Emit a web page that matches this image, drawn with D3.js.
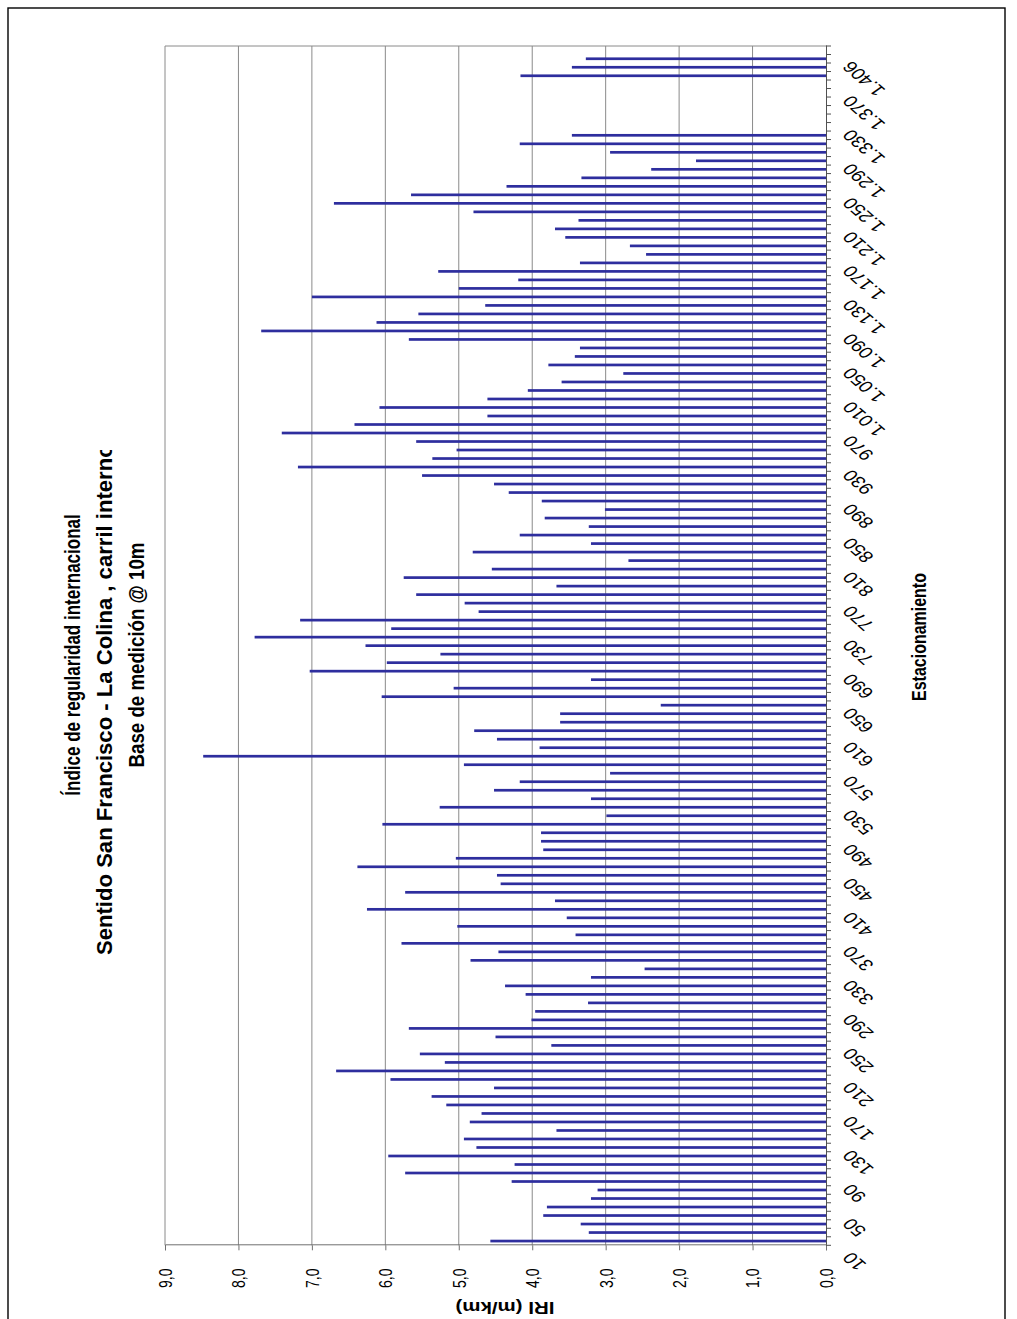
<!DOCTYPE html>
<html>
<head>
<meta charset="utf-8">
<script src="https://cdn.jsdelivr.net/npm/d3@7"></script>
<style>
  body { margin: 0; background: #fff; }
  svg { display: block; }
  text { font-family: "Liberation Sans", Arial, sans-serif; fill: #000; }
</style>
</head>
<body>
<script>
// Stations (m) along the lane, one IRI reading every 10 m
const stations = [
  10, 20, 30, 40, 50, 60, 70, 80, 90, 100,
  110, 120, 130, 140, 150, 160, 170, 180, 190, 200,
  210, 220, 230, 240, 250, 260, 270, 280, 290, 300,
  310, 320, 330, 340, 350, 360, 370, 380, 390, 400,
  410, 420, 430, 440, 450, 460, 470, 480, 490, 500,
  510, 520, 530, 540, 550, 560, 570, 580, 590, 600,
  610, 620, 630, 640, 650, 660, 670, 680, 690, 700,
  710, 720, 730, 740, 750, 760, 770, 780, 790, 800,
  810, 820, 830, 840, 850, 860, 870, 880, 890, 900,
  910, 920, 930, 940, 950, 960, 970, 980, 990, 1000,
  1010, 1020, 1030, 1040, 1050, 1060, 1070, 1080, 1090, 1100,
  1110, 1120, 1130, 1140, 1150, 1160, 1170, 1180, 1190, 1200,
  1210, 1220, 1230, 1240, 1250, 1260, 1270, 1280, 1290, 1300,
  1310, 1320, 1330, 1340, 1350, 1360, 1370, 1380, 1390, 1400,
  1406
];

// IRI (m/km) per station; null where no reading was taken
const iri = [
  4.57, 3.23, 3.34, 3.85, 3.80, 3.20, 3.11, 4.28, 5.73, 4.24,
  5.96, 4.76, 4.93, 3.67, 4.85, 4.69, 5.17, 5.37, 4.52, 5.93,
  6.67, 5.19, 5.53, 3.74, 4.50, 5.68, 4.01, 3.96, 3.24, 4.09,
  4.37, 3.20, 2.47, 4.84, 4.46, 5.78, 3.41, 5.02, 3.53, 6.25,
  3.69, 5.73, 4.43, 4.48, 6.38, 5.04, 3.85, 3.88, 3.88, 6.04,
  2.99, 5.26, 3.20, 4.52, 4.17, 2.94, 4.93, 8.48, 3.90, 4.48,
  4.79, 3.62, 3.62, 2.25, 6.05, 5.07, 3.20, 7.03, 5.98, 5.25,
  6.27, 7.78, 5.92, 7.16, 4.73, 4.92, 5.58, 3.67, 5.75, 4.55,
  2.69, 4.81, 3.20, 4.17, 3.23, 3.83, 3.01, 3.87, 4.32, 4.52,
  5.50, 7.19, 5.36, 5.03, 5.58, 7.41, 6.42, 4.61, 6.08, 4.61,
  4.06, 3.60, 2.76, 3.78, 3.42, 3.35, 5.68, 7.69, 6.12, 5.55,
  4.64, 7.00, 5.00, 4.19, 5.28, 3.35, 2.45, 2.67, 3.55, 3.69,
  3.37, 4.80, 6.70, 5.65, 4.35, 3.33, 2.38, 1.77, 2.94, 4.17,
  3.46, null, null, null, null, null, null, 4.16, 3.46, 3.27,
  null
];

const valueTicks = [0, 1, 2, 3, 4, 5, 6, 7, 8, 9];
const stationLabels = [10, 50, 90, 130, 170, 210, 250, 290, 330, 370, 410, 450, 490,
  530, 570, 610, 650, 690, 730, 770, 810, 850, 890, 930, 970, 1010, 1050, 1090,
  1130, 1170, 1210, 1250, 1290, 1330, 1370, 1406];

const titleLines = [
  "Índice de regularidad internacional",
  "Sentido San Francisco - La Colina , carril interno",
  "Base de medición @ 10m"
];
const xTitle = "Estacionamiento";
const yTitle = "IRI (m/km)";

// Spanish number formatting: comma decimals, dot thousands
const es = d3.formatLocale({ decimal: ",", thousands: ".", grouping: [3], currency: ["", " €"] });
const fmtVal = es.format(".1f");
const fmtSta = es.format(",d");

const W = 1017, H = 1319;
const svg = d3.select("body").append("svg").attr("width", W).attr("height", H);
svg.append("rect").attr("width", W).attr("height", H).attr("fill", "#fff");

// The chart is laid out landscape (1319 wide, 1017 tall) and turned a quarter turn
const g = svg.append("g").attr("transform", `translate(0,${H}) rotate(-90)`);
const K = 1.28; // glyphs are stretched across the long side of the sheet

// Outer frame
g.append("rect")
  .attr("x", -12).attr("y", 8).attr("width", 1323).attr("height", 997)
  .attr("fill", "none").attr("stroke", "#000").attr("stroke-width", 1.4);

const plot = { left: 73.7, right: 1273, top: 165, bottom: 826 };

const x = d3.scaleBand()
  .domain(stations)
  .range([plot.left, plot.right])
  .padding(0);

const y = d3.scaleLinear().domain([0, 9]).range([plot.bottom, plot.top]);

// Horizontal gridlines (one per unit)
g.append("g").selectAll("line")
  .data(valueTicks.filter(t => t > 0))
  .join("line")
  .attr("x1", plot.left).attr("x2", plot.right)
  .attr("y1", d => y(d)).attr("y2", d => y(d))
  .attr("stroke", "#8a8a8a").attr("stroke-width", 1);

// Right edge of the plot area
g.append("line")
  .attr("x1", plot.right).attr("x2", plot.right)
  .attr("y1", plot.top).attr("y2", plot.bottom)
  .attr("stroke", "#8a8a8a").attr("stroke-width", 1);

// Bars
const barW = 2.7;
g.append("g").selectAll("rect")
  .data(stations.map((s, i) => ({ s, v: iri[i] })).filter(d => d.v != null))
  .join("rect")
  .attr("x", d => x(d.s) + x.bandwidth() / 2 - barW / 2)
  .attr("width", barW)
  .attr("y", d => y(d.v))
  .attr("height", d => y(0) - y(d.v))
  .attr("fill", "#2e2e9e");

// Value axis
const yAxis = g.append("g")
  .attr("transform", `translate(${plot.left},0)`)
  .call(d3.axisLeft(y).tickValues(valueTicks).tickSize(5).tickPadding(0).tickFormat(fmtVal));
yAxis.select(".domain").attr("stroke", "#707070");
yAxis.selectAll(".tick line").attr("stroke", "#707070");
yAxis.selectAll(".tick text")
  .attr("x", null).attr("dy", null)
  .attr("text-anchor", "middle")
  .attr("font-size", 14)
  .attr("transform", `translate(-33,0) scale(1,${K}) translate(0,5)`);

// Category axis
const xAxis = g.append("g")
  .attr("transform", `translate(0,${plot.bottom})`)
  .call(d3.axisBottom(x).tickValues(stationLabels).tickSize(0).tickPadding(0).tickFormat(fmtSta));
xAxis.select(".domain").attr("stroke", "#505050");
xAxis.selectAll(".tick text")
  .attr("y", null).attr("dy", null)
  .attr("text-anchor", "end")
  .attr("font-size", 16)
  .attr("transform", `translate(-10,26) scale(1,${K}) rotate(-42)`);

// Category tick marks between stations
const step = x.step();
g.append("g").selectAll("line")
  .data(d3.range(stations.length + 1))
  .join("line")
  .attr("x1", i => plot.left + i * step).attr("x2", i => plot.left + i * step)
  .attr("y1", plot.bottom).attr("y2", plot.bottom + 5)
  .attr("stroke", "#505050").attr("stroke-width", 1);

// Titles
const clip = g.append("clipPath").attr("id", "titleClip");
clip.append("rect").attr("x", 0).attr("y", 0).attr("width", 869).attr("height", 300);

const t = g.append("g").attr("font-weight", "bold").attr("font-size", 17);
t.append("text").attr("transform", `translate(664,80) scale(1,${K})`)
  .attr("text-anchor", "middle").text(titleLines[0]);
t.append("g").attr("clip-path", "url(#titleClip)")
  .append("text").attr("transform", `translate(364,112) scale(1.3,${K})`)
  .attr("text-anchor", "start").text(titleLines[1]);
t.append("text").attr("transform", `translate(664,144) scale(1.1,${K})`)
  .attr("text-anchor", "middle").text(titleLines[2]);

g.append("text")
  .attr("transform", `translate(682,926) scale(1,${K})`)
  .attr("text-anchor", "middle").attr("font-weight", "bold").attr("font-size", 16)
  .text(xTitle);

g.append("text")
  .attr("transform", `translate(17,505) scale(1,${K}) rotate(-90)`)
  .attr("text-anchor", "middle").attr("font-weight", "bold").attr("font-size", 16)
  .text(yTitle);
</script>
</body>
</html>
